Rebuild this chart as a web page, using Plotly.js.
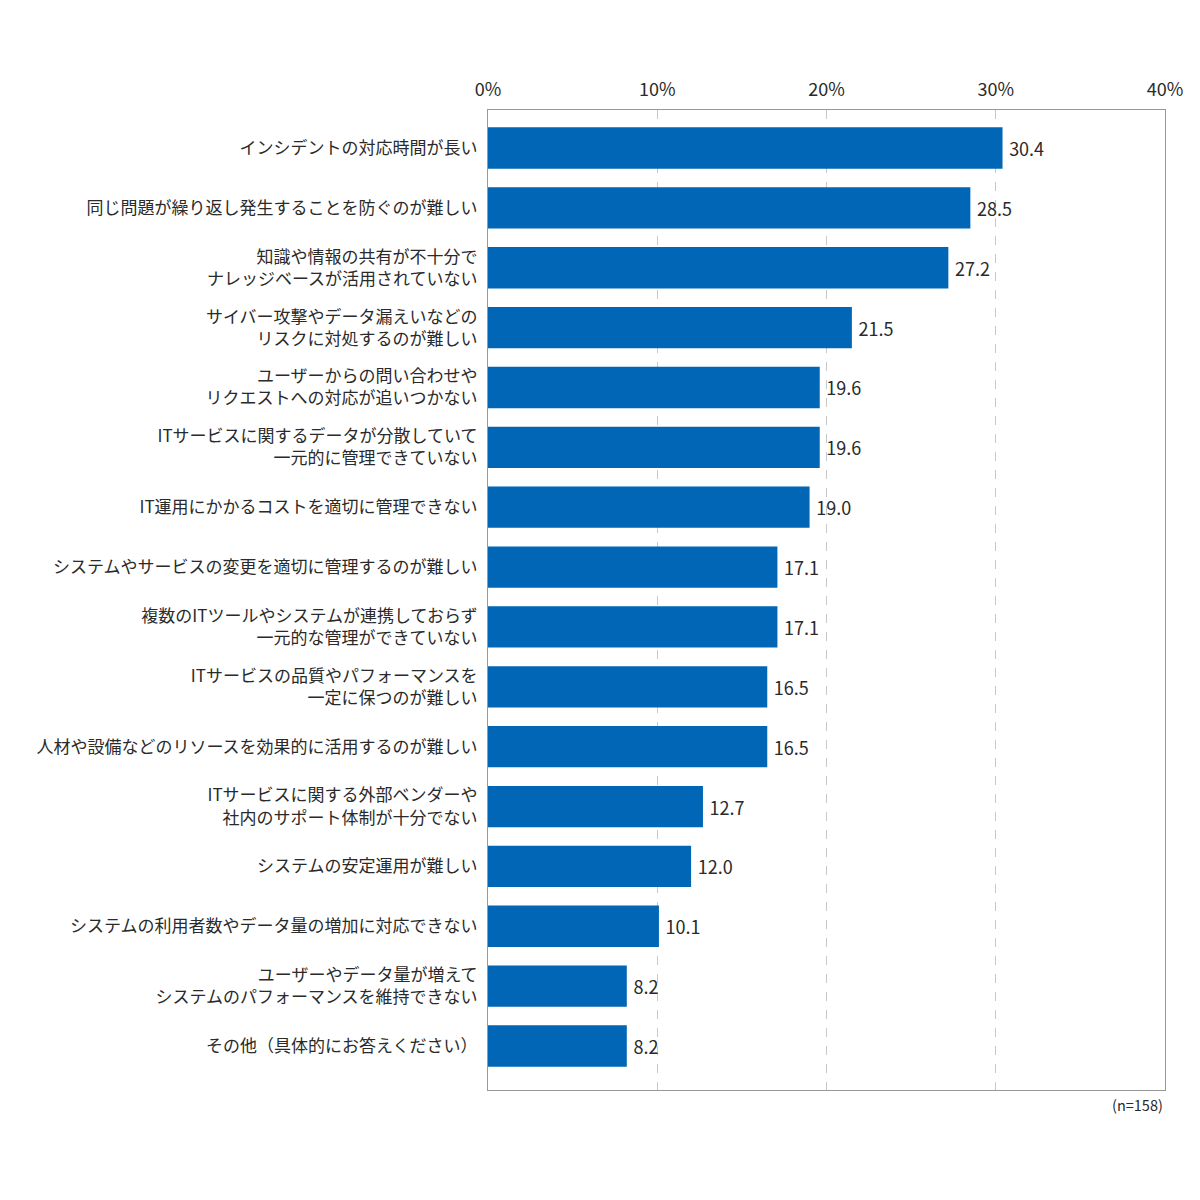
<!DOCTYPE html>
<html>
<head>
<meta charset="utf-8">
<script src="https://cdn.plot.ly/plotly-3.0.1.min.js"></script>
<style>
  body { margin: 0; background: #fff; }
  #chart { width: 1200px; height: 1200px; }
</style>
</head>
<body>
<div id="chart"></div>
<script>
// 回答項目（上から順）
var categories = [
    "インシデントの対応時間が長い",
    "同じ問題が繰り返し発生することを防ぐのが難しい",
    "知識や情報の共有が不十分で<br>ナレッジベースが活用されていない",
    "サイバー攻撃やデータ漏えいなどの<br>リスクに対処するのが難しい",
    "ユーザーからの問い合わせや<br>リクエストへの対応が追いつかない",
    "ITサービスに関するデータが分散していて<br>一元的に管理できていない",
    "IT運用にかかるコストを適切に管理できない",
    "システムやサービスの変更を適切に管理するのが難しい",
    "複数のITツールやシステムが連携しておらず<br>一元的な管理ができていない",
    "ITサービスの品質やパフォーマンスを<br>一定に保つのが難しい",
    "人材や設備などのリソースを効果的に活用するのが難しい",
    "ITサービスに関する外部ベンダーや<br>社内のサポート体制が十分でない",
    "システムの安定運用が難しい",
    "システムの利用者数やデータ量の増加に対応できない",
    "ユーザーやデータ量が増えて<br>システムのパフォーマンスを維持できない",
    "その他（具体的にお答えください）"
];
var values = [30.4, 28.5, 27.2, 21.5, 19.6, 19.6, 19.0, 17.1, 17.1, 16.5, 16.5, 12.7, 12.0, 10.1, 8.2, 8.2];
var tickVals = [0, 10, 20, 30, 40];
var tickText = ["0%", "10%", "20%", "30%", "40%"];
var sampleNote = "(n=158)";

var font = '"Noto Sans CJK JP", "Noto Sans", sans-serif';

var data = [{
    type: "bar",
    orientation: "h",
    x: values,
    y: categories,
    marker: { color: "#0066b5" },
    width: 0.69,
    text: values.map(function(v) { return "\u2009" + v.toFixed(1); }),
    textposition: "outside",
    cliponaxis: false,
    textfont: { family: font, size: 18, color: "#2a2a2a" },
    hoverinfo: "none"
}];

var layout = {
    width: 1200,
    height: 1200,
    margin: { l: 488, r: 35, t: 110, b: 110 },
    paper_bgcolor: "#fff",
    plot_bgcolor: "#fff",
    font: { family: font, size: 17, color: "#2a2a2a" },
    showlegend: false,
    xaxis: {
        side: "top",
        range: [0, 40],
        tickvals: tickVals,
        ticktext: tickText,
        tickfont: { size: 18, color: "#2a2a2a" },
        showgrid: true,
        gridcolor: "#c8c8c8",
        griddash: "dash",
        gridwidth: 1,
        zeroline: false,
        showline: true,
        linecolor: "#999",
        linewidth: 1,
        mirror: true,
        ticks: "",
        ticklabelstandoff: 6,
        fixedrange: true
    },
    yaxis: {
        type: "category",
        range: [15.735, -0.635],
        tickfont: { size: 17, color: "#2a2a2a" },
        showgrid: false,
        zeroline: false,
        showline: true,
        linecolor: "#999",
        linewidth: 1,
        mirror: true,
        ticks: "",
        ticklabelstandoff: 6,
        fixedrange: true
    },
    annotations: [{
        xref: "paper", yref: "paper",
        x: 1, y: 0,
        xanchor: "right", yanchor: "top",
        yshift: -2,
        text: sampleNote,
        showarrow: false,
        font: { family: font, size: 14.5, color: "#2a2a2a" }
    }]
};

Plotly.newPlot("chart", data, layout, { displayModeBar: false, staticPlot: true });
</script>
</body>
</html>
